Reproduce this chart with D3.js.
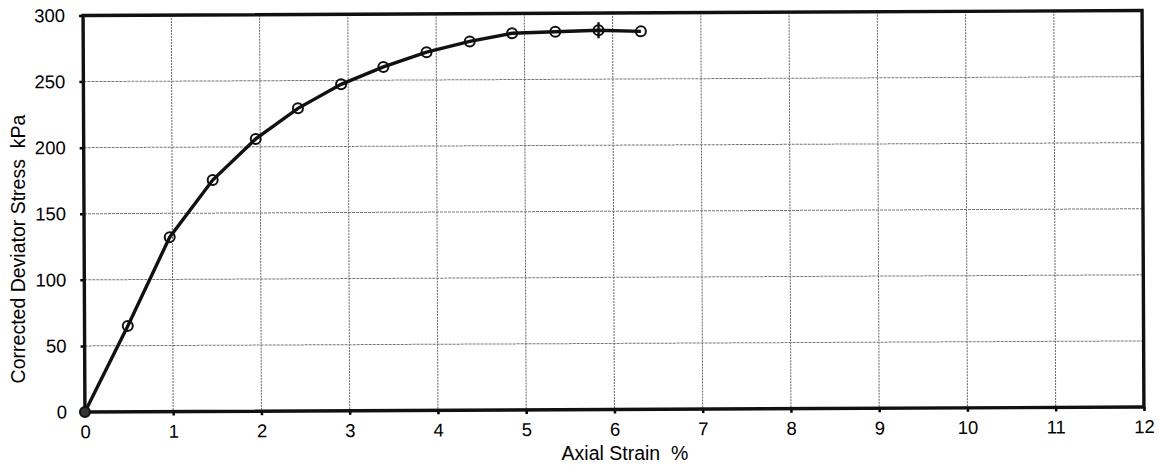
<!DOCTYPE html>
<html>
<head>
<meta charset="utf-8">
<script src="https://cdn.jsdelivr.net/npm/d3@7"></script>
<style>
  body { margin: 0; background: #fff; }
  svg { display: block; font-family: "Liberation Sans", Arial, sans-serif; }
</style>
</head>
<body>
<svg id="chart" width="1159" height="470"></svg>
<script>
// Axial strain (%) and corrected deviator stress (kPa) from the triaxial test
const strain = [0, 0.49, 0.97, 1.46, 1.95, 2.43, 2.92, 3.40, 3.89, 4.38, 4.86, 5.35, 5.84, 6.32];
const stress = [0, 65, 132, 175, 206, 229, 247, 260, 271, 279, 285, 286, 287, 286];
// Index of the reading marked as the peak (circle with cross)
const peakIndex = 12;

const xTicks = [0, 1, 2, 3, 4, 5, 6, 7, 8, 9, 10, 11, 12];
const yTicks = [0, 50, 100, 150, 200, 250, 300];

const xLabel = "Axial Strain\u00a0\u00a0%";
const yLabel = "Corrected Deviator Stress\u00a0\u00a0kPa";

const svg = d3.select("#chart");
const plot = { left: 84, right: 1143, top: 13, bottom: 409.5 };

const x = d3.scaleLinear().domain([0, 12]).range([plot.left, plot.right]);
const y = d3.scaleLinear().domain([0, 300]).range([plot.bottom, plot.top]);

const cx = (plot.left + plot.right) / 2, cy = (plot.top + plot.bottom) / 2;
const g = svg.append("g").attr("transform", `rotate(-0.27 ${cx} ${cy})`);

// Grid
g.append("g").selectAll("line").data(xTicks.slice(1, -1)).join("line")
  .attr("x1", d => x(d)).attr("x2", d => x(d))
  .attr("y1", plot.top).attr("y2", plot.bottom)
  .attr("stroke", "#666").attr("stroke-width", 1).attr("stroke-dasharray", "2,1");
g.append("g").selectAll("line").data(yTicks.slice(1, -1)).join("line")
  .attr("y1", d => y(d)).attr("y2", d => y(d))
  .attr("x1", plot.left).attr("x2", plot.right)
  .attr("stroke", "#777").attr("stroke-width", 1).attr("stroke-dasharray", "3,1");

// Axes
const xAxis = d3.axisBottom(x).tickValues(xTicks).tickSize(4).tickPadding(9);
const yAxis = d3.axisLeft(y).tickValues(yTicks).tickSize(4).tickPadding(14);

const gx = g.append("g").attr("transform", `translate(0,${plot.bottom})`).call(xAxis);
const gy = g.append("g").attr("transform", `translate(${plot.left},0)`).call(yAxis);
[gx, gy].forEach(a => {
  a.select(".domain").remove();
  a.selectAll(".tick line").attr("stroke", "#000").attr("stroke-width", 2.5);
  a.selectAll(".tick text").attr("font-size", 18.5).attr("fill", "#000")
    .attr("font-family", "Liberation Sans, Arial, sans-serif");
});

// Frame
g.append("rect")
  .attr("x", plot.left).attr("y", plot.top)
  .attr("width", plot.right - plot.left).attr("height", plot.bottom - plot.top)
  .attr("fill", "none").attr("stroke", "#111").attr("stroke-width", 3.4);

// Curve
const pts = strain.map((s, i) => [s, stress[i]]);
g.append("path").datum(pts)
  .attr("fill", "none").attr("stroke", "#111").attr("stroke-width", 3.4)
  .attr("d", d3.line().x(d => x(d[0])).y(d => y(d[1])));

g.append("g").selectAll("circle").data(pts).join("circle")
  .attr("cx", d => x(d[0])).attr("cy", d => y(d[1])).attr("r", 5)
  .attr("fill", (d, i) => i === 0 ? "#333" : "none")
  .attr("stroke", "#111").attr("stroke-width", 2);

// Peak marker cross
const pk = pts[peakIndex];
g.append("line")
  .attr("x1", x(pk[0])).attr("x2", x(pk[0]))
  .attr("y1", y(pk[1]) - 8).attr("y2", y(pk[1]) + 8)
  .attr("stroke", "#111").attr("stroke-width", 2.4);

// Axis titles
svg.append("text")
  .attr("x", 625).attr("y", 460)
  .attr("text-anchor", "middle").attr("font-size", 19.5).attr("fill", "#000")
  .text(xLabel);
svg.append("text")
  .attr("transform", "translate(25,249) rotate(-90)")
  .attr("text-anchor", "middle").attr("font-size", 19.5).attr("fill", "#000")
  .text(yLabel);
</script>
</body>
</html>
